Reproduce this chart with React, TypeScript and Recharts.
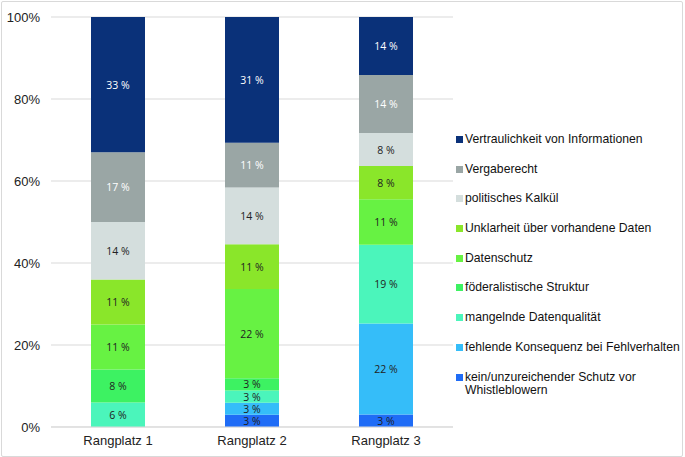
import { BarChart, Bar, XAxis, YAxis, CartesianGrid, LabelList } from 'recharts';

const categories = ['Rangplatz 1', 'Rangplatz 2', 'Rangplatz 3'];

// values per series, one entry per Rangplatz (percent)
const kein = [0, 3, 3];
const fehlende = [0, 3, 22];
const mangelnde = [6, 3, 19];
const foederal = [8, 3, 0];
const datenschutz = [11, 22, 11];
const unklarheit = [11, 11, 8];
const politisch = [14, 14, 8];
const vergabe = [17, 11, 14];
const vertraulich = [33, 31, 14];

const yTicks = [0, 0.2, 0.4, 0.6, 0.8, 1];

const series = [
  { key: 'kein', name: 'kein/unzureichender Schutz vor Whistleblowern', values: kein, color: '#1f6cf6', text: '#222' },
  { key: 'fehlende', name: 'fehlende Konsequenz bei Fehlverhalten', values: fehlende, color: '#35bdf9', text: '#222' },
  { key: 'mangelnde', name: 'mangelnde Datenqualität', values: mangelnde, color: '#4bf5bb', text: '#222' },
  { key: 'foederal', name: 'föderalistische Struktur', values: foederal, color: '#3df262', text: '#222' },
  { key: 'datenschutz', name: 'Datenschutz', values: datenschutz, color: '#67f243', text: '#222' },
  { key: 'unklarheit', name: 'Unklarheit über vorhandene Daten', values: unklarheit, color: '#8ae62a', text: '#222' },
  { key: 'politisch', name: 'politisches Kalkül', values: politisch, color: '#d4dedd', text: '#222' },
  { key: 'vergabe', name: 'Vergaberecht', values: vergabe, color: '#9aa6a5', text: '#ffffff' },
  { key: 'vertraulich', name: 'Vertraulichkeit von Informationen', values: vertraulich, color: '#0a3179', text: '#ffffff' },
];

const data = categories.map((cat, i) => {
  const row: Record<string, string | number> = { cat };
  series.forEach((s) => {
    row[s.key] = s.values[i];
  });
  return row;
});

const makeLabel = (color: string) => (props: any) => {
  const { x, y, width, height, value } = props;
  if (!value) return null;
  return (
    <text
      x={Number(x) + Number(width) / 2}
      y={Number(y) + Number(height) / 2}
      textAnchor="middle"
      dominantBaseline="central"
      fill={color}
      fontSize={10.5}
      fontFamily="'Open Sans', sans-serif"
    >
      {`${value} %`}
    </text>
  );
};

const ChartLegend = () => (
  <div
    style={{
      position: 'absolute',
      left: 456,
      top: 133,
      fontFamily: "'Liberation Sans', Arial, sans-serif",
      fontSize: 12.2,
      color: '#111',
    }}
  >
    {[...series].reverse().map((s) => (
      <div key={s.key} style={{ display: 'flex', alignItems: 'flex-start', height: 29.7, lineHeight: '13px' }}>
        <span style={{ width: 7, height: 7, background: s.color, marginTop: 3, marginRight: 2, flexShrink: 0 }} />
        <span style={{ width: 222 }}>{s.name}</span>
      </div>
    ))}
  </div>
);

export default function App() {
  return (
    <div style={{ position: 'absolute', left: 0, top: 0, width: 685, height: 457, background: '#fff' }}>
      <div
        style={{
          position: 'absolute',
          left: 1,
          top: 1,
          width: 680,
          height: 454,
          border: '1px solid #d9d9d9',
          borderRadius: 2,
        }}
      />
      <BarChart
        width={685}
        height={457}
        data={data}
        stackOffset="expand"
        barSize={54}
        margin={{ top: 17, right: 232, bottom: 0, left: 6 }}
      >
        <CartesianGrid vertical={false} stroke="#d9d9d9" />
        <XAxis
          dataKey="cat"
          height={30}
          axisLine={{ stroke: '#d9d9d9' }}
          tickLine={false}
          tickSize={0}
          tickMargin={9}
          tick={{ fill: '#222', fontSize: 13, fontFamily: "'Liberation Sans', Arial, sans-serif" }}
        />
        <YAxis
          width={45}
          domain={[0, 1]}
          ticks={yTicks}
          tickFormatter={(v: number) => `${Math.round(v * 100)}%`}
          axisLine={false}
          tickLine={false}
          tickSize={0}
          tickMargin={11}
          tick={{ fill: '#222', fontSize: 13, fontFamily: "'Liberation Sans', Arial, sans-serif" }}
        />
        {series.map((s) => (
          <Bar key={s.key} dataKey={s.key} name={s.name} stackId="a" fill={s.color} isAnimationActive={false}>
            <LabelList dataKey={s.key} content={makeLabel(s.text)} />
          </Bar>
        ))}
      </BarChart>
      <ChartLegend />
    </div>
  );
}
